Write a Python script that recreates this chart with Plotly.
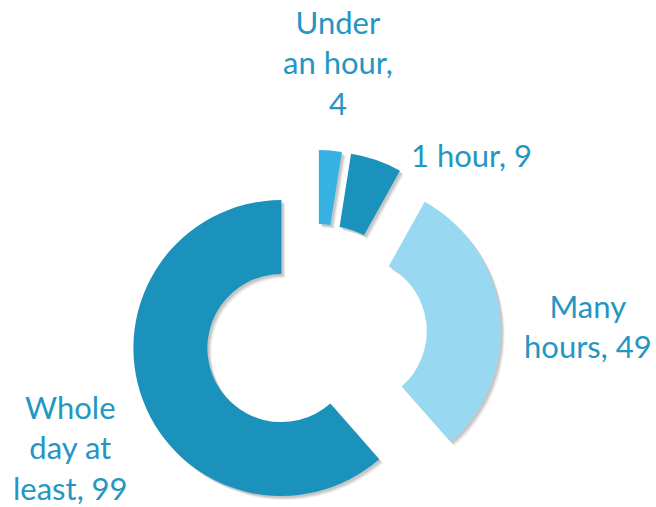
import math
import plotly.graph_objects as go

# Time spent, number of responses per answer
categories = ["Under an hour", "1 hour", "Many hours", "Whole day at least"]
values = [4, 9, 49, 99]
# wrapped data-label templates ("category, value")
label_templates = ["Under<br>an hour,<br>{}", "1 hour, {}", "Many<br>hours, {}", "Whole<br>day at<br>least, {}"]

colors = ["#36b2e2", "#1b92bb", "#98d8f0", "#1b92bb"]
text_color = "#2496c2"

W, H = 656, 507
center = (316, 335)      # pixel centre of the unexploded ring
radius = 148             # outer radius in pixels
explode = 37             # each slice pushed out along its bisector (px)
hole = 0.5

fig = go.Figure()
total = sum(values)


def pie_domain(cx, cy):
    return dict(x=[(cx - radius) / W, (cx + radius) / W],
                y=[1 - (cy + radius) / H, 1 - (cy - radius) / H])


def slice_trace(i, cx, cy, color, shadow=False):
    cols = ["rgba(0,0,0,0)"] * len(values)
    cols[i] = color
    return go.Pie(labels=categories, values=values, sort=False,
                  direction="clockwise", rotation=0, hole=hole,
                  marker=dict(colors=cols, line=dict(width=0)),
                  textinfo="none", hoverinfo="skip" if shadow else "label+value",
                  showlegend=False, domain=pie_domain(cx, cy))


cum = 0
for i, v in enumerate(values):
    mid = (cum + v / 2) / total * 2 * math.pi   # clockwise from 12 o'clock
    cum += v
    cx = center[0] + explode * math.sin(mid)
    cy = center[1] - explode * math.cos(mid)
    # soft drop shadow under each slice
    for off, a in ((4, 0.06), (3, 0.08), (2, 0.10)):
        fig.add_trace(slice_trace(i, cx + off, cy + off, f"rgba(0,0,0,{a})", shadow=True))
    fig.add_trace(slice_trace(i, cx, cy, colors[i]))

# data labels: category, value
label_pos = [(338, 63), (471, 155), (588, 326), (70, 447)]
for tpl, v, (x, y) in zip(label_templates, values, label_pos):
    fig.add_annotation(x=x / W, y=1 - y / H, xref="paper", yref="paper",
                       text=tpl.format(v), showarrow=False,
                       xanchor="center", yanchor="middle", align="center",
                       font=dict(family="Lato", size=31, color=text_color))

fig.update_layout(width=W, height=H, margin=dict(l=0, r=0, t=0, b=0),
                  paper_bgcolor="white", plot_bgcolor="white")

fig.write_html("out.html")
